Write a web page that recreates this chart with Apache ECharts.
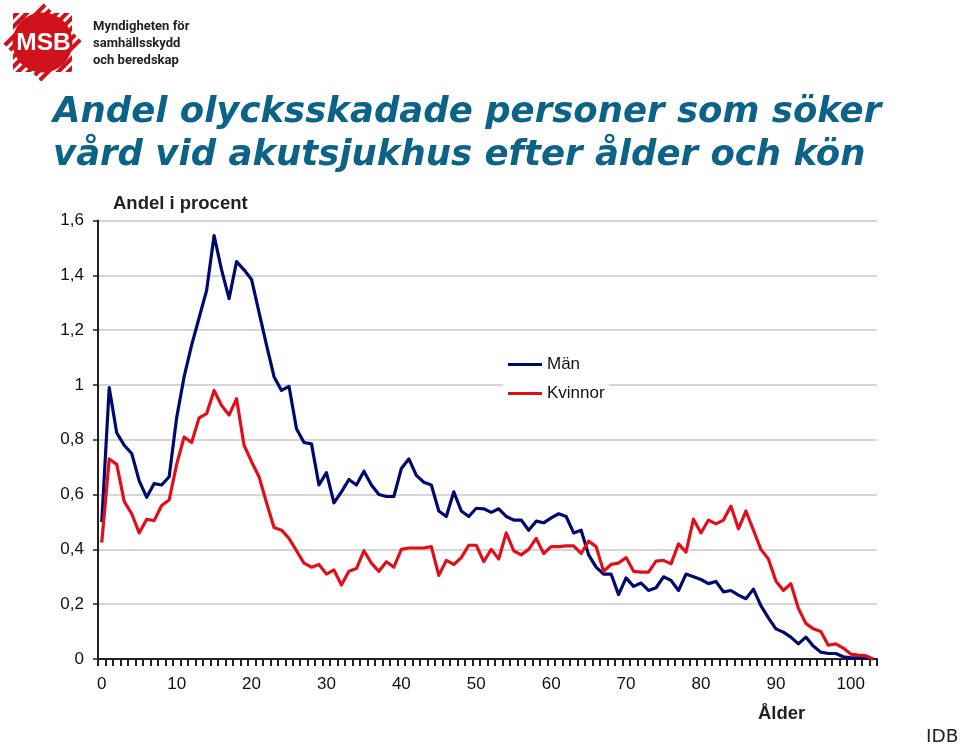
<!DOCTYPE html>
<html><head><meta charset="utf-8">
<style>html,body{margin:0;padding:0;background:#fff}#c{width:960px;height:744px}</style>
<script src="https://cdn.jsdelivr.net/npm/echarts@6/dist/echarts.min.js"></script>
</head><body><div id="c"></div>
<script>
const ages = Array.from({length:104},(_,i)=>String(i));
const man = [0.50,0.99,0.825,0.78,0.75,0.65,0.59,0.64,0.635,0.665,0.88,1.03,1.145,1.245,1.345,1.545,1.42,1.315,1.45,1.42,1.385,1.265,1.145,1.03,0.98,0.995,0.84,0.79,0.785,0.635,0.68,0.57,0.61,0.655,0.635,0.685,0.635,0.60,0.593,0.593,0.695,0.73,0.67,0.645,0.635,0.54,0.52,0.61,0.54,0.52,0.55,0.548,0.535,0.548,0.52,0.507,0.507,0.47,0.503,0.497,0.515,0.53,0.52,0.46,0.47,0.38,0.335,0.31,0.31,0.235,0.296,0.265,0.277,0.25,0.26,0.30,0.287,0.25,0.31,0.30,0.29,0.275,0.283,0.245,0.25,0.233,0.22,0.255,0.195,0.15,0.11,0.098,0.08,0.055,0.08,0.047,0.025,0.02,0.02,0.008,0.004,0.004,0.003,0];
const kvinna = [0.425,0.73,0.71,0.575,0.53,0.46,0.51,0.505,0.56,0.58,0.71,0.81,0.79,0.88,0.895,0.98,0.925,0.89,0.95,0.78,0.72,0.665,0.57,0.48,0.47,0.44,0.395,0.35,0.335,0.345,0.31,0.325,0.27,0.32,0.33,0.395,0.35,0.32,0.355,0.335,0.40,0.405,0.405,0.405,0.41,0.305,0.36,0.345,0.37,0.415,0.415,0.355,0.40,0.365,0.46,0.395,0.38,0.40,0.44,0.385,0.41,0.41,0.413,0.413,0.385,0.43,0.41,0.32,0.345,0.35,0.37,0.32,0.317,0.317,0.357,0.36,0.347,0.42,0.39,0.51,0.46,0.507,0.493,0.507,0.558,0.475,0.54,0.47,0.40,0.365,0.285,0.25,0.275,0.185,0.13,0.11,0.10,0.05,0.055,0.04,0.018,0.014,0.012,0];
const titleLines = ['Andel olycksskadade personer som söker','vård vid akutsjukhus efter ålder och kön'];
const logoLines = ['Myndigheten för','samhällsskydd','och beredskap'];

const RED='#cf1219';
const logo=[];
logo.push({type:'rect',shape:{x:-28.5,y:-28.5,width:57,height:57},x:42.5,y:42.5,rotation:Math.PI/4,style:{fill:RED}});
logo.push({type:'rect',shape:{x:13,y:13,width:59,height:59},style:{fill:RED}});
for(let c=5;c<172;c+=10){
  const a=Math.min(c,88), b=c-a;
  logo.push({type:'line',shape:{x1:a,y1:b,x2:b,y2:a},style:{stroke:'#fff',lineWidth:3}});
}
logo.push({type:'circle',shape:{cx:42.5,cy:42.5,r:30},style:{fill:RED}});
logo.push({type:'text',x:43.5,y:43,style:{text:'MSB',fill:'#fff',font:'bold 24.5px "Liberation Sans"',align:'center',verticalAlign:'middle'}});
logoLines.forEach((t,i)=>logo.push({type:'text',x:93,y:27+i*17,style:{text:t,fill:'#222',font:'bold 13px Roboto',verticalAlign:'middle'}}));

const chart=echarts.init(document.getElementById('c'),null,{renderer:'canvas'});
chart.setOption({
  animation:false,backgroundColor:'#fff',
  grid:{left:98,top:220.5,width:779,height:438.5,containLabel:false},
  xAxis:{type:'category',data:ages,boundaryGap:true,
    axisLine:{lineStyle:{color:'#222',width:2}},
    axisTick:{show:true,interval:0,length:7,lineStyle:{color:'#222',width:2}},
    axisLabel:{interval:(i)=>i%10===0,margin:17,fontFamily:'Liberation Sans',fontSize:17,color:'#111'},
    splitLine:{show:false}},
  yAxis:{type:'value',min:0,max:1.6,interval:0.2,
    axisLine:{show:true,lineStyle:{color:'#222',width:2}},
    axisTick:{show:true,length:5,lineStyle:{color:'#222',width:1.5}},
    axisLabel:{margin:14,fontFamily:'Liberation Sans',fontSize:17,color:'#111',
      formatter:v=>String(Math.round(v*10)/10).replace('.',',')},
    splitLine:{lineStyle:{color:'#c8c8c8',width:1.5}}},
  legend:{show:true,orient:'vertical',left:503,top:352,padding:[4,4,4,5],itemWidth:34,itemHeight:3,itemGap:12,
    backgroundColor:'#fff',icon:'rect',
    textStyle:{fontFamily:'Liberation Sans',fontSize:17,color:'#111'},
    data:['Män','Kvinnor'],formatter:n=>n},
  series:[
    {name:'Män',type:'line',data:man,symbol:'none',z:3,lineStyle:{color:'#000a6e',width:3.2,join:'round'},itemStyle:{color:'#000a6e'}},
    {name:'Kvinnor',type:'line',data:kvinna,symbol:'none',z:4,lineStyle:{color:'#e0101a',width:3.2,join:'round'},itemStyle:{color:'#e0101a'}}
  ],
  graphic:[
    ...logo,
    {type:'text',x:53,y:113,style:{text:titleLines[0],fill:'#0b6488',font:'italic bold 35.5px "DejaVu Sans"',verticalAlign:'middle'}},
    {type:'text',x:53,y:156,style:{text:titleLines[1],fill:'#0b6488',font:'italic bold 35.5px "DejaVu Sans"',verticalAlign:'middle'}},
    {type:'text',x:113,y:204,style:{text:'Andel i procent',fill:'#222',font:'bold 18.5px "Liberation Sans"',verticalAlign:'middle'}},
    {type:'text',x:758,y:714,style:{text:'Ålder',fill:'#222',font:'bold 18.5px "Liberation Sans"',verticalAlign:'middle'}},
    {type:'text',x:926,y:737,style:{text:'IDB',fill:'#222',font:'18.5px "DejaVu Sans"',verticalAlign:'middle'}}
  ]
});
</script></body></html>
